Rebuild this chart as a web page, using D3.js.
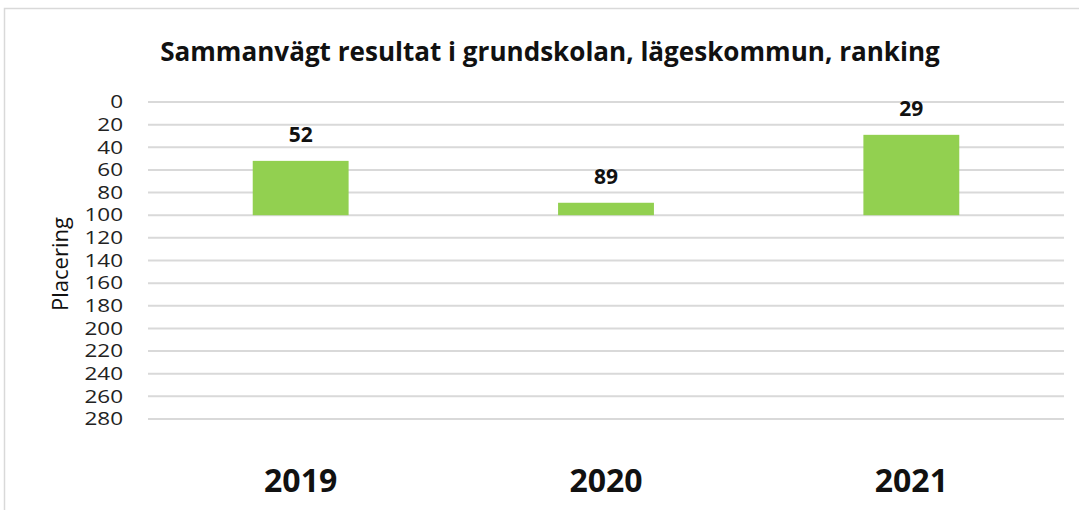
<!DOCTYPE html>
<html>
<head>
<meta charset="utf-8">
<script src="https://cdn.jsdelivr.net/npm/d3@7"></script>
<style>
  body { margin: 0; background: #fff; }
  svg { display: block; font-family: "Open Sans", "Noto Sans", sans-serif; }
</style>
</head>
<body>
<svg id="chart" width="1079" height="510"></svg>
<script>
// data
const years = ["2019", "2020", "2021"];
const ranks = [52, 89, 29];
const yTicks = [0, 20, 40, 60, 80, 100, 120, 140, 160, 180, 200, 220, 240, 260, 280];
const baseRank = 100; // axis crosses here
const chartTitle = "Sammanvägt resultat i grundskolan, lägeskommun, ranking";
const yTitle = "Placering";

const svg = d3.select("#chart");

// outer frame
svg.append("rect")
    .attr("x", 4.5).attr("y", 8.5)
    .attr("width", 1100).attr("height", 520)
    .attr("fill", "none")
    .attr("stroke", "#d9d9d9")
    .attr("stroke-width", 1.5);

const plot = { left: 148, right: 1064, top: 102, bottom: 419 };

const x = d3.scaleBand()
    .domain(years)
    .range([plot.left, plot.right])
    .paddingInner(0.686)
    .paddingOuter(0.343);

// reversed axis: 0 on top
const y = d3.scaleLinear()
    .domain([0, 280])
    .range([plot.top, plot.bottom]);

// gridlines
svg.append("g")
    .selectAll("line")
    .data(yTicks)
    .join("line")
        .attr("x1", plot.left)
        .attr("x2", plot.right)
        .attr("y1", d => y(d))
        .attr("y2", d => y(d))
        .attr("stroke", "#d9d9d9")
        .attr("stroke-width", 2);

// y axis labels (a bit wide, like the original)
const yAxis = d3.axisLeft(y).tickValues(yTicks).tickSize(0).tickPadding(0);
const yg = svg.append("g")
    .attr("transform", `translate(123,0)`)
    .call(yAxis);
yg.select(".domain").remove();
yg.selectAll("text")
    .attr("font-size", 18)
    .attr("font-family", "Open Sans, Noto Sans, sans-serif")
    .attr("fill", "#222")
    .attr("transform", "scale(1.25,1)");

// bars, from the crossing value (100) up to the rank
svg.append("g")
    .selectAll("rect")
    .data(years)
    .join("rect")
        .attr("x", d => x(d))
        .attr("width", x.bandwidth())
        .attr("y", (d, i) => y(Math.min(ranks[i], baseRank)))
        .attr("height", (d, i) => Math.abs(y(baseRank) - y(ranks[i])))
        .attr("fill", "#92d050");

// data labels
svg.append("g")
    .selectAll("text")
    .data(years)
    .join("text")
        .attr("x", d => x(d) + x.bandwidth() / 2)
        .attr("y", (d, i) => y(ranks[i]) - 19)
        .attr("text-anchor", "middle")
        .attr("font-size", 21)
        .attr("font-weight", "bold")
        .attr("fill", "#111")
        .text((d, i) => ranks[i]);

// category labels
svg.append("g")
    .selectAll("text")
    .data(years)
    .join("text")
        .attr("x", d => x(d) + x.bandwidth() / 2)
        .attr("y", 492)
        .attr("text-anchor", "middle")
        .attr("font-size", 32)
        .attr("font-weight", "bold")
        .attr("fill", "#111")
        .text(d => d);

// y title
svg.append("text")
    .attr("transform", "translate(68,264) rotate(-90)")
    .attr("text-anchor", "middle")
    .attr("font-size", 22)
    .attr("fill", "#111")
    .text(yTitle);

// chart title, fitted to the width seen in the reference
const title = svg.append("text")
    .attr("x", 550)
    .attr("y", 61)
    .attr("text-anchor", "middle")
    .attr("font-size", 23)
    .attr("font-weight", "bold")
    .attr("fill", "#111")
    .text(chartTitle);
const tw = title.node().getComputedTextLength();
title.attr("font-size", 23 * 780 / tw);
</script>
</body>
</html>
